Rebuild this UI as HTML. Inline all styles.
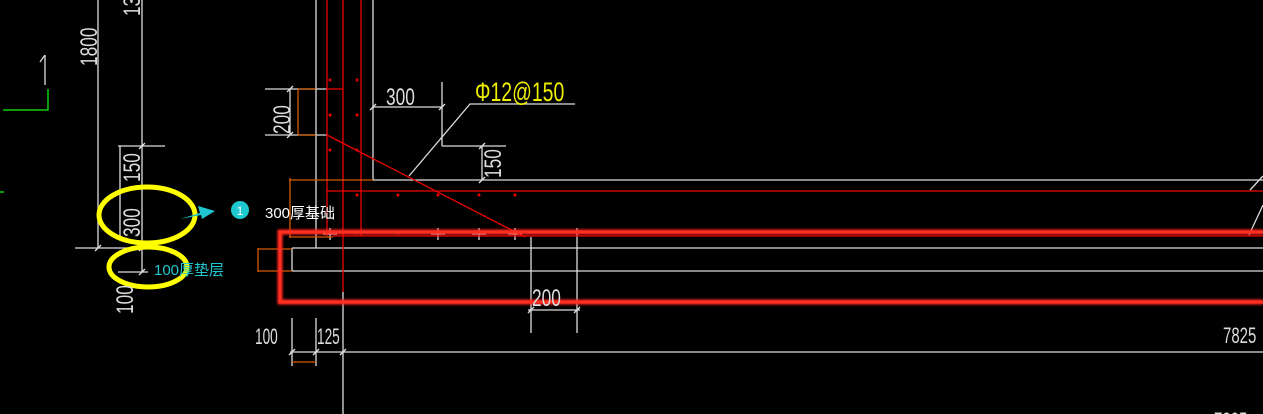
<!DOCTYPE html>
<html><head><meta charset="utf-8"><style>
html,body{margin:0;padding:0;background:#000;width:1263px;height:414px;overflow:hidden}
svg{display:block}
text{font-family:"Liberation Sans","Noto Sans CJK SC",sans-serif}
</style></head><body>
<svg width="1263" height="414" viewBox="0 0 1263 414" xmlns="http://www.w3.org/2000/svg">
<defs><filter id="g" x="-5%" y="-20%" width="110%" height="140%"><feGaussianBlur stdDeviation="1.2"/></filter></defs>
<g stroke="#ddd" stroke-width="1.3" fill="none">
<line x1="98" y1="0" x2="98" y2="248"/>
<line x1="142" y1="0" x2="142" y2="272"/>
<line x1="75" y1="248" x2="160" y2="248"/>
<line x1="118" y1="146" x2="165" y2="146"/>
<line x1="118" y1="272" x2="148" y2="272"/>
<line x1="120" y1="146" x2="120" y2="240"/>
<line x1="316" y1="0" x2="316" y2="248"/>
<line x1="373" y1="0" x2="373" y2="180"/>
<line x1="373" y1="180" x2="1263" y2="180"/>
<line x1="292" y1="248" x2="1263" y2="248"/>
<line x1="292" y1="271" x2="1263" y2="271"/>
<line x1="292" y1="248" x2="292" y2="271"/>
<line x1="343" y1="292" x2="343" y2="414"/>
<line x1="290" y1="352" x2="1263" y2="352"/>
<line x1="292" y1="318" x2="292" y2="366"/>
<line x1="316" y1="318" x2="316" y2="366"/>
<line x1="265" y1="89" x2="327" y2="89"/>
<line x1="265" y1="135" x2="327" y2="135"/>
<line x1="290" y1="89" x2="290" y2="135"/>
<line x1="373" y1="107" x2="442" y2="107"/>
<line x1="442" y1="82" x2="442" y2="146"/>
<line x1="442" y1="146" x2="506" y2="146"/>
<line x1="482" y1="146" x2="482" y2="180"/>
<polyline points="409,176 470,104 575,104"/>
<line x1="531" y1="237" x2="531" y2="333"/>
<line x1="577" y1="228" x2="577" y2="333"/>
<line x1="528" y1="310" x2="580" y2="310"/>
<line x1="95" y1="251" x2="101" y2="245"/><line x1="139" y1="251" x2="145" y2="245"/>
<line x1="139" y1="149" x2="145" y2="143"/><line x1="139" y1="275" x2="145" y2="269"/>
<line x1="287" y1="92" x2="293" y2="86"/><line x1="287" y1="138" x2="293" y2="132"/>
<line x1="370" y1="110" x2="376" y2="104"/><line x1="439" y1="110" x2="445" y2="104"/>
<line x1="479" y1="149" x2="485" y2="143"/><line x1="479" y1="183" x2="485" y2="177"/>
<line x1="528" y1="313" x2="534" y2="307"/><line x1="574" y1="313" x2="580" y2="307"/>
<line x1="289" y1="355" x2="295" y2="349"/><line x1="313" y1="355" x2="319" y2="349"/><line x1="340" y1="355" x2="346" y2="349"/>
<line x1="1250" y1="190" x2="1263" y2="176"/><line x1="1249" y1="235" x2="1263" y2="205"/>
<path d="M323 234h14M330 228v12M431 234h14M438 228v12M472 234h14M479 228v12M508 234h14M515 228v12"/>
<line x1="45" y1="55" x2="45" y2="85"/><line x1="40" y1="62" x2="45" y2="55"/>
</g>
<g stroke="#1c1" stroke-width="1.5" fill="none"><polyline points="3,110 48,110 48,89"/><line x1="0" y1="192" x2="4" y2="192"/></g>
<g stroke="#e00" stroke-width="1.3" fill="none">
<line x1="327" y1="0" x2="327" y2="236"/>
<line x1="343" y1="0" x2="343" y2="292"/>
<line x1="361" y1="0" x2="361" y2="236"/>
<line x1="327" y1="89" x2="343" y2="89"/>
<line x1="327" y1="191" x2="1263" y2="191"/>
<line x1="333" y1="236" x2="1263" y2="236"/>
<line x1="327" y1="135" x2="525" y2="237"/>
</g>
<g fill="#e00"><circle cx="330" cy="80" r="1.5"/><circle cx="357" cy="80" r="1.5"/><circle cx="330" cy="115" r="1.5"/><circle cx="357" cy="115" r="1.5"/><circle cx="330" cy="150" r="1.5"/><circle cx="357" cy="150" r="1.5"/><circle cx="357" cy="195" r="1.5"/><circle cx="398" cy="195" r="1.5"/><circle cx="438" cy="195" r="1.5"/><circle cx="479" cy="195" r="1.5"/><circle cx="515" cy="195" r="1.5"/><circle cx="357" cy="233" r="1.5"/><circle cx="398" cy="233" r="1.5"/></g>
<g stroke="#d55a00" stroke-width="1.3" fill="none">
<line x1="298" y1="89" x2="298" y2="135"/><line x1="298" y1="89" x2="316" y2="89"/><line x1="298" y1="135" x2="316" y2="135"/>
<line x1="289" y1="180" x2="373" y2="180"/><line x1="290" y1="178" x2="290" y2="238"/><line x1="289" y1="237" x2="333" y2="237"/>
<line x1="258" y1="248" x2="258" y2="272"/><line x1="258" y1="249" x2="292" y2="249"/><line x1="258" y1="271" x2="292" y2="271"/>
<line x1="292" y1="362" x2="316" y2="362"/>
</g>
<path d="M1263 232H280V302H1263" stroke="#f22" stroke-width="5" fill="none" filter="url(#g)"/>
<path d="M1263 232H280V302H1263" stroke="#ff3020" stroke-width="3" fill="none"/>
<g stroke="#ff0" stroke-width="5" fill="none"><ellipse cx="147" cy="215" rx="48" ry="28"/><ellipse cx="148" cy="267" rx="39" ry="20"/></g>
<polygon points="180,219 200,213 198,206 215,211 202,219 201,215" fill="#1fc8d0"/>
<circle cx="240" cy="210" r="9" fill="#1fc8d0"/>
<text x="240" y="215" fill="#fff" font-size="12" text-anchor="middle">1</text>
<text x="265" y="218" fill="#fff" font-size="15">300厚基础</text>
<text x="154" y="275" fill="#1fc8d0" font-size="15">100厚垫层</text>
<g fill="#ddd" font-size="24">
<text transform="translate(97,66) rotate(-90) scale(0.72,1)">1800</text>
<text transform="translate(140,16) rotate(-90) scale(0.72,1)">13</text>
<text transform="translate(140,182) rotate(-90) scale(0.72,1)">150</text>
<text transform="translate(140,237) rotate(-90) scale(0.72,1)">300</text>
<text transform="translate(133,314) rotate(-90) scale(0.72,1)">100</text>
<text transform="translate(290,134) rotate(-90) scale(0.72,1)">200</text>
<text transform="translate(501,178) rotate(-90) scale(0.72,1)">150</text>
<text transform="translate(386,105) scale(0.72,1)">300</text>
<text transform="translate(532,306) scale(0.72,1)">200</text>
<text transform="translate(255,344) scale(0.62,1)" font-size="22">100</text>
<text transform="translate(317,344) scale(0.62,1)" font-size="22">125</text>
<text transform="translate(1223,343) scale(0.68,1)" font-size="22">7825</text>
<text transform="translate(1214,428) scale(0.68,1)" font-size="22">7825</text>
</g>
<text transform="translate(475,101) scale(0.72,1)" fill="#ee0" font-size="27">Φ12@150</text>
</svg>
</body></html>
